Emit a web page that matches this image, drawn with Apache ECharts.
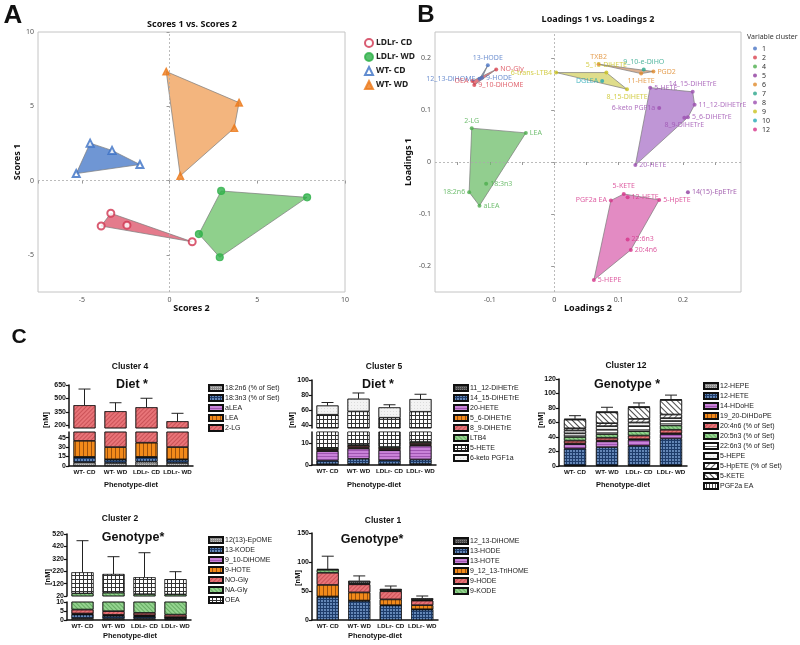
<!DOCTYPE html>
<html>
<head>
<meta charset="utf-8">
<script src="https://cdn.jsdelivr.net/npm/echarts@6/dist/echarts.min.js"></script>
<style>
  html, body { margin: 0; padding: 0; background: #fff; }
  #chart { width: 800px; height: 645px; }
</style>
</head>
<body>
<div id="chart"></div>
<script>
const groups = ['WT- CD', 'WT- WD', 'LDLr- CD', 'LDLr- WD']

// panel A: scores [Scores 2, Scores 1]
const scoresLdlCd = [[-3.35, -2.2], [-3.9, -3.06], [-2.43, -3.0], [1.29, -4.12]]
const scoresLdlWd = [[2.94, -0.7], [7.84, -1.13], [1.67, -3.6], [2.86, -5.16]]
const scoresWtCd = [[-5.32, 0.47], [-4.53, 2.52], [-3.28, 2.03], [-1.69, 1.08]]
const scoresWtWd = [[-0.19, 7.34], [3.96, 5.25], [3.69, 3.54], [0.61, 0.32]]

// panel B: loadings
const loadNames = ['13-HODE', '12_13-DiHOME', '9-HODE', 'NO-Gly', 'OEA', '9_10-DiHOME',
  '6-trans-LTB4', '5_15-DiHETE', '8_15-DiHETE', 'DGLEA', 'TXB2', 'PGD2', '11-HETE', '9_10-e-DiHO',
  '5-HETE', '14_15-DiHETrE', '11_12-DiHETrE', '5_6-DiHETrE', '8_9-DiHETrE', '6-keto PGF1a', '20-HETE',
  '14(15)-EpETrE', '5-KETE', '12-HETE', 'PGF2a EA', '5-HpETE', '22:6n3', '20:4n6', '5-HEPE',
  '2-LG', 'LEA', '18:3n3', '18:2n6', 'aLEA']
const loadX = [-0.103, -0.116, -0.112, -0.090, -0.127, -0.124,
  0.003, 0.081, 0.113, 0.0745, 0.069, 0.154, 0.135, 0.139,
  0.149, 0.215, 0.218, 0.2076, 0.202, 0.163, 0.126,
  0.2076, 0.108, 0.114, 0.088, 0.163, 0.114, 0.119, 0.0616,
  -0.128, -0.044, -0.1056, -0.132, -0.116]
const loadY = [0.186, 0.160, 0.162, 0.178, 0.156, 0.148,
  0.172, 0.172, 0.140, 0.156, 0.188, 0.174, 0.170, 0.178,
  0.143, 0.135, 0.110, 0.086, 0.085, 0.104, -0.006,
  -0.058, -0.0615, -0.068, -0.074, -0.073, -0.149, -0.169, -0.227,
  0.065, 0.056, -0.042, -0.058, -0.084]
const loadClus = ['1', '1', '1', '2', '2', '2',
  '9', '9', '9', '10', '6', '6', '6', '7',
  '8', '8', '8', '8', '8', '8', '8',
  '5', '12', '12', '12', '12', '12', '12', '12',
  '4', '4', '4', '4', '4']
const clusterIds = ['1', '2', '4', '5', '6', '7', '8', '9', '10', '12']

// panel C: stacked concentrations [nM], bottom to top
const c4Names = ['18:2n6 (% of Set)', '18:3n3 (% of Set)', 'aLEA', 'LEA', '2-LG']
const c4Vals = [[6, 5, 7, 5], [8, 5, 7, 5], [0.5, 0.5, 0.5, 0.5], [25.5, 19.5, 22.5, 19.5], [384, 327, 364, 215]]
const c4ErrTop = [605, 452, 502, 334]

const c5Names = ['11_12-DiHETrE', '14_15-DiHETrE', '20-HETE', '5_6-DiHETrE', '8_9-DiHETrE', 'LTB4', '5-HETE', '6-keto PGF1a']
const c5Vals = [[0.4, 0.5, 0.4, 0.5], [1.6, 2.3, 1.8, 2.0], [4.3, 4.7, 4.5, 6.3], [0.3, 0.4, 0.3, 0.4],
  [0.6, 0.8, 0.7, 0.8], [0.6, 0.5, 0.6, 0.6], [45.9, 48.8, 41.4, 47.1], [12.3, 17, 13.8, 16.8]]
const c5ErrTop = [70, 82.7, 67, 81]

const c12Names = ['12-HEPE', '12-HETE', '14-HDoHE', '19_20-DiHDoPE', '20:4n6 (% of Set)', '20:5n3 (% of Set)',
  '22:6n3 (% of Set)', '5-HEPE', '5-HpETE (% of Set)', '5-KETE', 'PGF2a EA']
const c12Vals = [[1, 1, 1, 1], [23, 25, 27, 37], [6, 8, 8, 6], [1, 1, 1, 1], [4, 4, 5, 5], [5, 5, 6, 6],
  [5, 6, 7, 6], [4, 5, 5, 4], [3, 4, 5, 5], [12, 15, 16, 20], [1, 1, 1, 1]]
const c12ErrTop = [69.4, 81, 87, 97.8]

const c2Names = ['12(13)-EpOME', '13-KODE', '9_10-DiHOME', '9-HOTE', 'NO-Gly', 'NA-Gly', 'OEA']
const c2Vals = [[1.0, 0.8, 0.8, 0.6], [2.0, 1.5, 1.2, 0.6], [0.3, 0.3, 0.3, 0.2], [0.3, 0.3, 0.3, 0.2],
  [2.2, 2.0, 1.4, 1.4], [36, 42, 32, 31], [169, 150, 135, 121]]
const c2ErrTop = [466, 337, 369, 216]

const c1Names = ['13-HODE', '13-HOTE', '9_12_13-TriHOME', '9-HODE', '9-KODE', '12_13-DiHOME']
const c1Legend = ['12_13-DiHOME', '13-HODE', '13-HOTE', '9_12_13-TriHOME', '9-HODE', '9-KODE']
const c1Vals = [[40, 33, 25, 18], [0.5, 0.5, 0.5, 0.5], [20, 14, 10, 7], [21, 14, 14, 8], [5, 1.5, 1.5, 1], [1.5, 4.5, 2.5, 3]]
const c1ErrTop = [110, 76, 58.6, 41.4]

// styles
const clusterColor = { '1': '#4a74c4', '2': '#d9424f', '4': '#4cae4c', '5': '#8e3c9e', '6': '#e08a2b',
  '7': '#2aa58a', '8': '#9c4fb0', '9': '#c9c21e', '10': '#26a9b5', '12': '#d6338a' }
const clusterFill = { '1': 'rgba(74,116,196,0.75)', '2': 'rgba(217,66,79,0.7)', '4': 'rgba(110,190,105,0.75)',
  '6': 'rgba(205,150,110,0.75)', '8': 'rgba(170,115,200,0.75)', '9': 'rgba(215,212,110,0.8)', '12': 'rgba(220,110,180,0.8)' }

// label placement for panel B: [position, dx, dy]
const labelPlace = {
  '13-HODE': ['top', 0, 1], '12_13-DiHOME': ['left', -2, -9], '9-HODE': ['right', 2, 1], 'NO-Gly': ['right', 0, 0],
  'OEA': ['left', 0, 0], '9_10-DiHOME': ['right', 0, 4], '6-trans-LTB4': ['left', 0, -1], '5_15-DiHETE': ['top', -18, 1],
  '8_15-DiHETE': ['bottom', -6, -1], 'DGLEA': ['left', 0, 2], 'TXB2': ['top', 0, 1], 'PGD2': ['right', 0, 6],
  '11-HETE': ['bottom', -10, 0], '9_10-e-DiHO': ['top', 8, 0], '5-HETE': ['right', 0, -2], '14_15-DiHETrE': ['top', -12, 0],
  '11_12-DiHETrE': ['right', 0, 5], '5_6-DiHETrE': ['right', 0, 0], '8_9-DiHETrE': ['bottom', 6, -1], '6-keto PGF1a': ['left', 0, 0],
  '20-HETE': ['right', 0, 3], '14(15)-EpETrE': ['right', 0, 0], '5-KETE': ['top', -6, 0], '12-HETE': ['right', 0, -4],
  'PGF2a EA': ['left', 0, -3], '5-HpETE': ['right', 0, 0], '22:6n3': ['right', 0, 1], '20:4n6': ['right', 0, 0],
  '5-HEPE': ['right', 0, 1], '2-LG': ['top', 0, 1], 'LEA': ['right', 0, 0], '18:3n3': ['right', 0, 2],
  '18:2n6': ['left', 0, 5], 'aLEA': ['right', 0, 2]
}

const line = (rot, col, gap) => ({ symbol: 'rect', symbolSize: 1, dashArrayX: [1, 0], dashArrayY: [1, gap || 2], rotation: rot, color: col })
const patterns = {
  gray: { color: '#8e8e8e', decal: { symbol: 'rect', symbolSize: 1, dashArrayX: [1, 1], dashArrayY: [1, 1], color: 'rgba(255,255,255,0.45)' } },
  dark: { color: '#4a4a4a', decal: { symbol: 'rect', symbolSize: 1, dashArrayX: [1, 1], dashArrayY: [1, 1], color: 'rgba(255,255,255,0.3)' } },
  navy: { color: '#1e3c6a', decal: { symbol: 'circle', symbolSize: 0.9, dashArrayX: [2, 1], dashArrayY: [2, 1], color: 'rgba(150,190,240,0.85)' } },
  purple: { color: '#c982d8', decal: line(0, 'rgba(110,30,130,0.45)', 2) },
  orange: { color: '#f28a1a', decal: line(Math.PI / 2, 'rgba(90,35,0,0.55)', 3) },
  red: { color: '#e87478', decal: line(-Math.PI / 4, 'rgba(150,20,30,0.35)', 2) },
  green: { color: '#94d48f', decal: line(Math.PI / 4, 'rgba(30,110,30,0.4)', 2) },
  grid: { color: '#333', decal: { symbol: 'rect', symbolSize: 1, dashArrayX: [3, 1], dashArrayY: [3, 1], color: '#fff' } },
  speck: { color: '#f3f3f3', decal: { symbol: 'circle', symbolSize: 0.6, dashArrayX: [1, 2], dashArrayY: [1, 2], color: 'rgba(0,0,0,0.45)' } },
  hlines: { color: '#fff', decal: line(0, 'rgba(0,0,0,0.55)', 2) },
  diag: { color: '#fff', decal: line(Math.PI / 4, 'rgba(0,0,0,0.7)', 3) },
  backdiag: { color: '#fff', decal: line(-Math.PI / 4, 'rgba(0,0,0,0.6)', 3) },
  vlines: { color: '#fff', decal: line(Math.PI / 2, 'rgba(0,0,0,0.7)', 2) }
}
const c4Pat = ['gray', 'navy', 'purple', 'orange', 'red']
const c5Pat = ['dark', 'navy', 'purple', 'orange', 'red', 'green', 'grid', 'speck']
const c12Pat = ['gray', 'navy', 'purple', 'orange', 'red', 'green', 'hlines', 'speck', 'backdiag', 'diag', 'vlines']
const c2Pat = ['gray', 'navy', 'purple', 'orange', 'red', 'green', 'grid']
const c1Pat = ['navy', 'purple', 'orange', 'red', 'green', 'dark']

const FA = 'Noto Sans, sans-serif'
const FC = 'Liberation Sans, Arial, sans-serif'

function hull(pts) {
  const p = pts.slice().sort((a, b) => a[0] - b[0] || a[1] - b[1])
  const cross = (o, a, b) => (a[0] - o[0]) * (b[1] - o[1]) - (a[1] - o[1]) * (b[0] - o[0])
  const lo = [], up = []
  p.forEach(q => { while (lo.length >= 2 && cross(lo[lo.length - 2], lo[lo.length - 1], q) <= 0) lo.pop(); lo.push(q) })
  p.slice().reverse().forEach(q => { while (up.length >= 2 && cross(up[up.length - 2], up[up.length - 1], q) <= 0) up.pop(); up.push(q) })
  lo.pop(); up.pop()
  return lo.concat(up)
}

function polySeries(pts, ai, fill) {
  const h = hull(pts)
  return {
    type: 'custom', xAxisIndex: ai, yAxisIndex: ai, silent: true, z: 1,
    data: [pts[0]],
    renderItem: (params, api) => ({
      type: 'polygon',
      shape: { points: h.map(q => api.coord(q)) },
      style: { fill: fill, stroke: '#7a7a7a', lineWidth: 0.7 }
    })
  }
}

function sumCols(vals) {
  return groups.map((g, i) => vals.reduce((s, v) => s + v[i], 0))
}

function errSeries(vals, tops, ai) {
  const tot = sumCols(vals)
  return {
    type: 'custom', xAxisIndex: ai, yAxisIndex: ai, silent: true, z: 5,
    data: groups.map((g, i) => [i, tot[i], tops[i]]),
    renderItem: (params, api) => {
      const b = api.coord([api.value(0), api.value(1)])
      const t = api.coord([api.value(0), api.value(2)])
      const st = { stroke: '#222', lineWidth: 1 }
      return { type: 'group', children: [
        { type: 'line', shape: { x1: b[0], y1: b[1], x2: t[0], y2: t[1] }, style: st },
        { type: 'line', shape: { x1: t[0] - 6, y1: t[1], x2: t[0] + 6, y2: t[1] }, style: st }
      ] }
    }
  }
}

function barSeries(names, vals, pats, axes, tag) {
  const out = []
  axes.forEach(ai => {
    names.forEach((n, k) => {
      out.push({
        type: 'bar', name: n, stack: tag + ai, xAxisIndex: ai, yAxisIndex: ai, barWidth: 22, z: 2,
        data: vals[k],
        itemStyle: Object.assign({ borderColor: '#111', borderWidth: 0.6 }, patterns[pats[k]])
      })
    })
  })
  return out
}

// grids: 0 A, 1 B, 2/3 C4, 4/5 C5, 6 C12, 7/8 C2, 9 C1
const grids = [
  { left: 38, top: 32, width: 307, height: 260, show: true, borderColor: '#c4c4c4', borderWidth: 1 },
  { left: 435, top: 32, width: 306, height: 260, show: true, borderColor: '#c4c4c4', borderWidth: 1 },
  { left: 69, top: 385, width: 124, height: 43 },
  { left: 69, top: 432, width: 124, height: 34 },
  { left: 312, top: 380, width: 124, height: 48 },
  { left: 312, top: 432, width: 124, height: 33 },
  { left: 559, top: 379, width: 128, height: 87 },
  { left: 67, top: 534, width: 124, height: 62 },
  { left: 67, top: 602, width: 124, height: 18 },
  { left: 312, top: 533, width: 126, height: 87 }
]

const jmpLabel = { fontSize: 7, color: '#555', fontFamily: FA, margin: 4 }
const jmpTick = { length: 3, lineStyle: { color: '#999' } }
const cAxisLine = { show: true, lineStyle: { color: '#111', width: 1.5 } }
const cLabel = { fontSize: 7, fontWeight: 'bold', color: '#111', fontFamily: FC, margin: 3 }
const nameStyle = { fontSize: 9, fontWeight: 'bold', fontFamily: FA, color: '#111' }

const xAxes = [
  { gridIndex: 0, type: 'value', min: -7.5, max: 10, splitLine: { show: false }, axisLine: { show: false },
    axisTick: Object.assign({ customValues: [-7.5, -5, 0, 5, 10] }, jmpTick),
    axisLabel: Object.assign({ customValues: [-5, 0, 5, 10] }, jmpLabel),
    name: 'Scores 2', nameLocation: 'middle', nameGap: 12, nameTextStyle: nameStyle },
  { gridIndex: 1, type: 'value', min: -0.185, max: 0.29, splitLine: { show: false }, axisLine: { show: false },
    axisTick: Object.assign({ customValues: [-0.15, -0.1, -0.05, 0, 0.05, 0.1, 0.15, 0.2, 0.25] }, jmpTick),
    axisLabel: Object.assign({ customValues: [-0.1, 0, 0.1, 0.2] }, jmpLabel),
    name: 'Loadings 2', nameLocation: 'middle', nameGap: 12, nameTextStyle: nameStyle }
]
for (let g = 2; g < 10; g++) {
  const lower = [3, 5, 6, 8, 9].indexOf(g) >= 0
  xAxes.push({
    gridIndex: g, type: 'category', data: groups, show: lower,
    axisLine: cAxisLine, axisTick: { alignWithLabel: true, length: 2, lineStyle: { color: '#111' } },
    axisLabel: Object.assign({}, cLabel, { interval: 0, fontSize: 6.2 })
  })
}

function cY(g, min, max, ticks) {
  return {
    gridIndex: g, type: 'value', min: min, max: max, splitLine: { show: false },
    axisLine: cAxisLine, axisTick: { show: true, length: 3, customValues: ticks, lineStyle: { color: '#111', width: 1.2 } },
    axisLabel: Object.assign({ customValues: ticks }, cLabel)
  }
}
const yAxes = [
  { gridIndex: 0, type: 'value', min: -7.5, max: 10, splitLine: { show: false }, axisLine: { show: false },
    axisTick: Object.assign({ customValues: [-5, 0, 5, 10] }, jmpTick),
    axisLabel: Object.assign({ customValues: [-5, 0, 5, 10] }, jmpLabel),
    name: 'Scores 1', nameLocation: 'middle', nameGap: 16, nameTextStyle: nameStyle },
  { gridIndex: 1, type: 'value', min: -0.25, max: 0.25, splitLine: { show: false }, axisLine: { show: false },
    axisTick: Object.assign({ customValues: [-0.2, -0.1, 0, 0.1, 0.2] }, jmpTick),
    axisLabel: Object.assign({ customValues: [-0.2, -0.1, 0, 0.1, 0.2] }, jmpLabel),
    name: 'Loadings 1', nameLocation: 'middle', nameGap: 22, nameTextStyle: nameStyle },
  cY(2, 170, 650, [200, 350, 500, 650]),
  cY(3, 0, 54, [0, 15, 30, 45]),
  cY(4, 36, 100, [40, 60, 80, 100]),
  cY(5, 0, 15, [0, 10]),
  cY(6, 0, 120, [0, 20, 40, 60, 80, 100, 120]),
  cY(7, 20, 520, [20, 120, 220, 320, 420, 520]),
  cY(8, 0, 10, [0, 5, 10]),
  cY(9, 0, 150, [0, 50, 100, 150])
]

const zeroLines = {
  silent: true, symbol: ['none', 'none'], label: { show: false },
  lineStyle: { type: [2, 2], color: '#aaa', width: 0.8 },
  data: [{ xAxis: 0 }, { yAxis: 0 }]
}

const series = []
// panel A
const aSets = [
  ['LDLr- CD', scoresLdlCd, 'emptyCircle', '#d0334f', 'rgba(217,72,96,0.72)'],
  ['LDLr- WD', scoresLdlWd, 'circle', '#2fb24a', 'rgba(100,190,95,0.72)'],
  ['WT- CD', scoresWtCd, 'emptyTriangle', '#3a6fc4', 'rgba(70,120,200,0.78)'],
  ['WT- WD', scoresWtWd, 'triangle', '#ec7a1c', 'rgba(240,160,90,0.78)']
]
aSets.forEach(s => series.push(polySeries(s[1], 0, s[4])))
aSets.forEach((s, i) => series.push({
  type: 'scatter', name: s[0], xAxisIndex: 0, yAxisIndex: 0, data: s[1], symbol: s[2], symbolSize: 7, z: 3,
  itemStyle: { color: s[3], borderColor: s[3], borderWidth: 1.2 },
  markLine: i === 0 ? zeroLines : undefined
}))

// panel B
const polyClusters = ['1', '2', '4', '6', '8', '9', '12']
polyClusters.forEach(c => {
  const pts = loadNames.map((n, i) => [loadX[i], loadY[i], loadClus[i]]).filter(p => p[2] === c).map(p => [p[0], p[1]])
  series.push(polySeries(pts, 1, clusterFill[c]))
})
clusterIds.forEach((c, ci) => {
  const data = []
  loadNames.forEach((n, i) => {
    if (loadClus[i] !== c) return
    const lp = labelPlace[n]
    data.push({ name: n, value: [loadX[i], loadY[i]], label: { position: lp[0], offset: [lp[1], lp[2]] } })
  })
  series.push({
    type: 'scatter', name: c, xAxisIndex: 1, yAxisIndex: 1, data: data, symbolSize: 4, z: 3,
    itemStyle: { color: clusterColor[c] },
    label: { show: true, formatter: '{b}', fontSize: 7, fontFamily: FA, color: clusterColor[c], distance: 2 },
    labelLayout: { hideOverlap: false },
    markLine: ci === 0 ? zeroLines : undefined
  })
})

// panel C
series.push(...barSeries(c4Names, c4Vals, c4Pat, [2, 3], 'c4'), errSeries(c4Vals, c4ErrTop, 2))
series.push(...barSeries(c5Names, c5Vals, c5Pat, [4, 5], 'c5'), errSeries(c5Vals, c5ErrTop, 4))
series.push(...barSeries(c12Names, c12Vals, c12Pat, [6], 'c12'), errSeries(c12Vals, c12ErrTop, 6))
series.push(...barSeries(c2Names, c2Vals, c2Pat, [7, 8], 'c2'), errSeries(c2Vals, c2ErrTop, 7))
series.push(...barSeries(c1Names, c1Vals, c1Pat, [9], 'c1'), errSeries(c1Vals, c1ErrTop, 9))

function cLegend(names, left, top) {
  return {
    data: names, orient: 'vertical', left: left, top: top, icon: 'rect',
    itemWidth: 14, itemHeight: 6, itemGap: 2, selectedMode: false,
    textStyle: { fontSize: 7, fontFamily: FC, color: '#222', lineHeight: 8, padding: [0, 0, 0, -3] }
  }
}
const legends = [
  { data: aSets.map(s => s[0]), orient: 'vertical', left: 359, top: 33, itemWidth: 8, itemHeight: 8, itemGap: 4, selectedMode: false,
    textStyle: { fontSize: 8.5, fontWeight: 'bold', fontFamily: FA, color: '#222', padding: [0, 0, 0, -2] } },
  { data: clusterIds, orient: 'vertical', left: 748, top: 40, icon: 'circle', itemWidth: 4, itemHeight: 4, itemGap: 2, selectedMode: false,
    textStyle: { fontSize: 7, fontFamily: FA, color: '#333', lineHeight: 6 } },
  cLegend(c4Names, 203, 379),
  cLegend(c5Names, 448, 379),
  cLegend(c12Names, 698, 377),
  cLegend(c2Names, 203, 531),
  cLegend(c1Legend, 448, 532)
]

function txt(x, y, text, font, extra) {
  return Object.assign({ type: 'text', x: x, y: y, silent: true,
    style: { text: text, font: font, fill: '#111', textAlign: 'center', textVerticalAlign: 'middle' } }, extra || {})
}
const graphics = [
  txt(13, 16, 'A', 'bold 26px ' + FC),
  txt(426, 15, 'B', 'bold 24px ' + FC),
  txt(19, 337, 'C', 'bold 21px ' + FC),
  txt(192, 24, 'Scores 1 vs. Scores 2', 'bold 9px ' + FA),
  txt(598, 19, 'Loadings 1 vs. Loadings 2', 'bold 9px ' + FA),
  { type: 'text', x: 747, y: 37, silent: true, style: { text: 'Variable cluster', font: '7px ' + FA, fill: '#333', textVerticalAlign: 'middle' } },
  txt(130, 367, 'Cluster 4', 'bold 8.5px ' + FC),
  txt(384, 367, 'Cluster 5', 'bold 8.5px ' + FC),
  txt(626, 366, 'Cluster 12', 'bold 8.5px ' + FC),
  txt(120, 519, 'Cluster 2', 'bold 8.5px ' + FC),
  txt(383, 521, 'Cluster 1', 'bold 8.5px ' + FC),
  txt(132, 385, 'Diet *', 'bold 12.5px ' + FC),
  txt(378, 385, 'Diet *', 'bold 12.5px ' + FC),
  txt(627, 385, 'Genotype *', 'bold 12.5px ' + FC),
  txt(133, 538, 'Genotype*', 'bold 12.5px ' + FC),
  txt(372, 540, 'Genotype*', 'bold 12.5px ' + FC),
  txt(131, 485, 'Phenotype-diet', 'bold 7.5px ' + FC),
  txt(374, 485, 'Phenotype-diet', 'bold 7.5px ' + FC),
  txt(623, 485, 'Phenotype-diet', 'bold 7.5px ' + FC),
  txt(130, 636, 'Phenotype-diet', 'bold 7.5px ' + FC),
  txt(375, 636, 'Phenotype-diet', 'bold 7.5px ' + FC),
  txt(46, 420, '[nM]', 'bold 7.5px ' + FC, { rotation: Math.PI / 2 }),
  txt(292, 420, '[nM]', 'bold 7.5px ' + FC, { rotation: Math.PI / 2 }),
  txt(541, 420, '[nM]', 'bold 7.5px ' + FC, { rotation: Math.PI / 2 }),
  txt(48, 577, '[nM]', 'bold 7.5px ' + FC, { rotation: Math.PI / 2 }),
  txt(298, 578, '[nM]', 'bold 7.5px ' + FC, { rotation: Math.PI / 2 })
]

const chart = echarts.init(document.getElementById('chart'))
chart.setOption({
  animation: false,
  backgroundColor: '#fff',
  grid: grids,
  xAxis: xAxes,
  yAxis: yAxes,
  legend: legends,
  graphic: graphics,
  series: series
})
</script>
</body>
</html>
